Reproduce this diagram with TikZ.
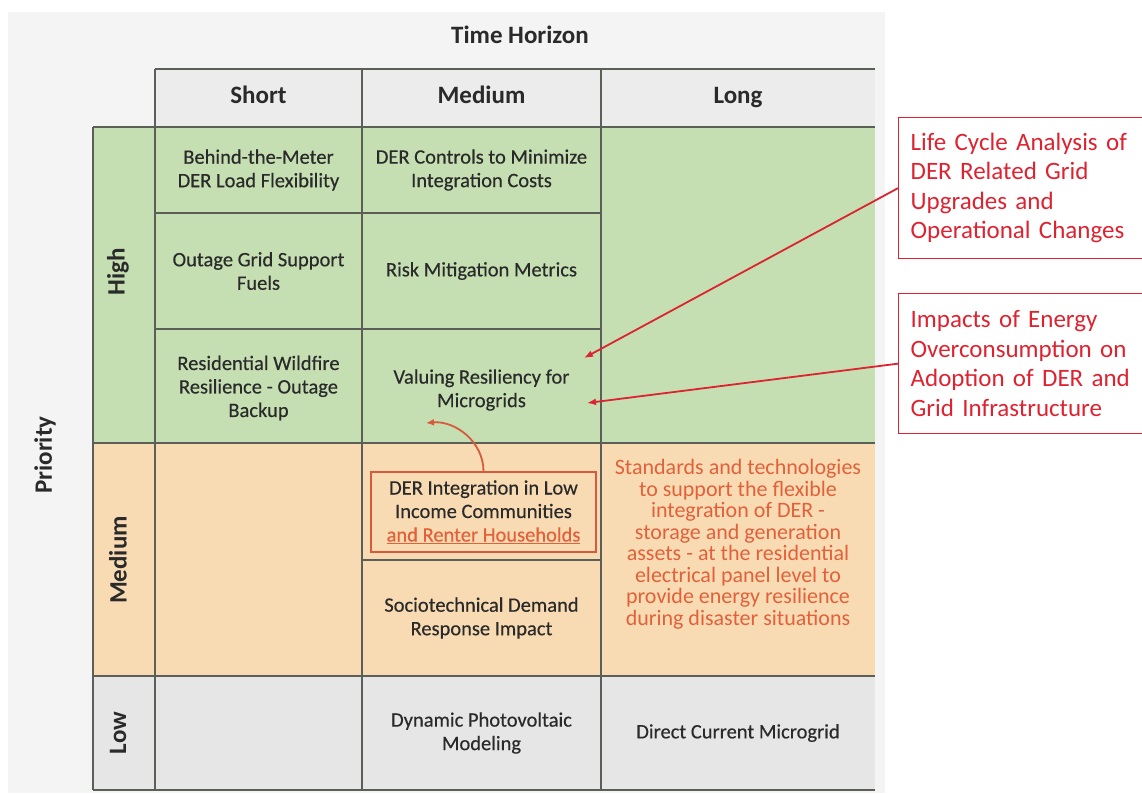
\documentclass[tikz,border=0pt]{standalone}
\usepackage{fontspec}
\setmainfont{Carlito}
\newfontfamily\cellfont{Carlito}[FakeBold=0.35]
\usetikzlibrary{arrows.meta}
\definecolor{bgc}{HTML}{F4F4F4}
\definecolor{hdr}{HTML}{ECECEC}
\definecolor{grn}{HTML}{C5DFB3}
\definecolor{peach}{HTML}{F9DBB3}
\definecolor{lowc}{HTML}{E6E6E6}
\definecolor{gridc}{HTML}{5A5F58}
\definecolor{txt}{HTML}{2A2A2A}
\definecolor{redc}{HTML}{DD2230}
\definecolor{otext}{HTML}{E2613A}
\definecolor{oline}{HTML}{D65A3C}
\begin{document}
\begin{tikzpicture}[x=1pt,y=-1pt,
  gridline/.style={draw=gridc,line width=1.3pt},
  celltext/.style={font=\cellfont\fontsize{20.5}{23.5}\selectfont,text=txt,align=center,inner sep=0pt},
  headtext/.style={font=\bfseries\fontsize{25}{28}\selectfont,text=txt,inner sep=0pt,text height=17pt,text depth=5pt},
  rowhead/.style={font=\bfseries\fontsize{25}{28}\selectfont,text=txt,rotate=90,inner sep=0pt},
  orangetext/.style={font=\fontsize{22}{21.5}\selectfont,text=otext,align=center,inner sep=0pt},
  redbox/.style={draw=redc,line width=1.3pt,text=redc,font=\fontsize{25}{29.5}\selectfont,
    anchor=north west,align=left,inner xsep=12pt,inner ysep=0pt,text width=225pt},
  redarrow/.style={draw=redc,line width=1.8pt,-{Latex[length=9pt,width=7pt]}},
  orangearrow/.style={draw=oline,line width=1.8pt,-{Latex[length=8pt,width=7pt]}}
]
\useasboundingbox (0,0) rectangle (1142,793);
% background panel
\fill[bgc] (8,12) rectangle (885,793);
% fills
\fill[hdr] (155,69) rectangle (875,127);
\fill[grn] (93,127) rectangle (875,443);
\fill[peach] (93,443) rectangle (875,676);
\fill[lowc] (93,676) rectangle (875,790);
% grid lines
\draw[gridline] (155,69) -- (875,69);
\draw[gridline] (93,127) -- (875,127);
\draw[gridline] (155,213) -- (601,213);
\draw[gridline] (155,329) -- (601,329);
\draw[gridline] (93,443) -- (875,443);
\draw[gridline] (362,560) -- (601,560);
\draw[gridline] (93,676) -- (875,676);
\draw[gridline] (93,790) -- (875,790);
\draw[gridline] (93,127) -- (93,790);
\draw[gridline] (155,69) -- (155,790);
\draw[gridline] (362,69) -- (362,790);
\draw[gridline] (601,69) -- (601,790);
% titles
\node[headtext] (th) at (520,37) {Time Horizon};
\node[headtext] (hs) at (258.5,97) {Short};
\node[headtext] (hm) at (481.5,97) {Medium};
\node[headtext] (hl) at (738,97) {Long};
\node[rowhead] (pr) at (45,455) {Priority};
\node[rowhead] (ph) at (118,272) {High};
\node[rowhead] (pm) at (118,560) {Medium};
\node[rowhead] (pl) at (118,733) {Low};
% cells
\node[celltext] (c11) at (258.5,170) {Behind-the-Meter\\DER Load Flexibility};
\node[celltext] (c12) at (481.5,170) {DER Controls to Minimize\\Integration Costs};
\node[celltext] (c21) at (258.5,271) {Outage Grid Support\\Fuels};
\node[celltext] (c22) at (481.5,271) {Risk Mitigation Metrics};
\node[celltext] (c31) at (258.5,388) {Residential Wildfire\\Resilience - Outage\\Backup};
\node[celltext] (c32) at (481.5,390) {Valuing Resiliency for\\Microgrids};
\node[celltext,draw=oline,line width=1.5pt,minimum width=225pt,minimum height=80pt] (der) at (483.5,512)
  {DER Integration in Low\\Income Communities\\{\color{otext}\underline{and Renter Households}}};
\node[celltext] (soc) at (481.5,618) {Sociotechnical Demand\\Response Impact};
\node[orangetext] (std) at (738,544) {Standards and technologies\\to support the flexible\\integration of DER -\\storage and generation\\assets - at the residential\\electrical panel level to\\provide energy resilience\\during disaster situations};
\node[celltext] (dyn) at (481.5,733) {Dynamic Photovoltaic\\Modeling};
\node[celltext] (dcm) at (738,733) {Direct Current Microgrid};
% red boxes
\node[redbox,minimum height=141pt] (box1) at (898,117) {Life Cycle Analysis of\\DER Related Grid\\Upgrades and\\Operational Changes};
\node[redbox,minimum height=140pt] (box2) at (898,293) {Impacts of Energy\\Overconsumption on\\Adoption of DER and\\Grid Infrastructure};
% arrows
\coordinate (t1) at (584,358);
\coordinate (t2) at (587,403);
\coordinate (t3) at (426,423);
\draw[redarrow] (box1.west) -- (t1);
\draw[redarrow] (box2.west) -- (t2);
\draw[orangearrow] (der.north) to[out=90,in=5] (t3);
\end{tikzpicture}
\end{document}
